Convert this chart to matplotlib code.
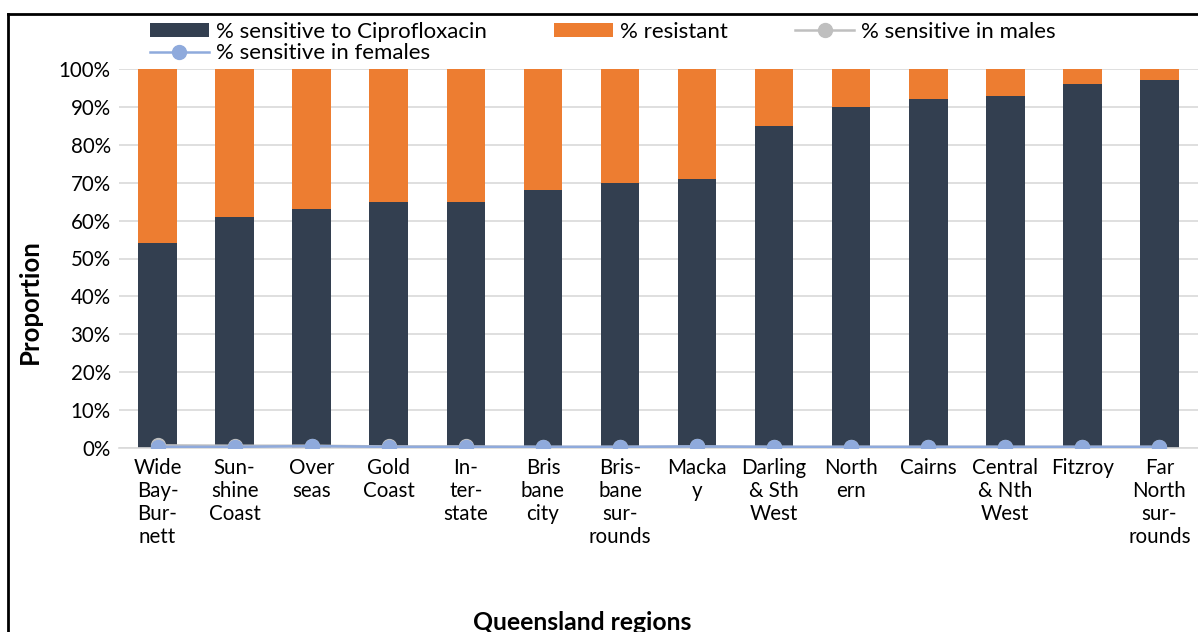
import matplotlib.pyplot as plt
from matplotlib.lines import Line2D
from matplotlib.ticker import FuncFormatter

plt.rcParams['font.family'] = ['Lato', 'DejaVu Sans']

regions = ["Wide\nBay-\nBur-\nnett", "Sun-\nshine\nCoast", "Over\nseas", "Gold\nCoast",
           "In-\nter-\nstate", "Bris\nbane\ncity", "Bris-\nbane\nsur-\nrounds", "Macka\ny",
           "Darling\n& Sth\nWest", "North\nern", "Cairns", "Central\n& Nth\nWest",
           "Fitzroy", "Far\nNorth\nsur-\nrounds"]
sensitive = [54, 61, 63, 65, 65, 68, 70, 71, 85, 90, 92, 93, 96, 97]
resistant = [100 - s for s in sensitive]
# the sex series sit almost on the zero line
males = [0.7, 0.6, 0.6, 0.4, 0.4, 0.3, 0.3, 0.4, 0.3, 0.3, 0.3, 0.3, 0.3, 0.3]
females = [0.3, 0.3, 0.5, 0.3, 0.3, 0.3, 0.3, 0.4, 0.3, 0.3, 0.3, 0.3, 0.3, 0.3]

navy = "#333F50"
orange = "#ED7D31"
grey = "#BFBFBF"
blue = "#8FAADC"

W, H = 1198, 632
fig = plt.figure(figsize=(W / 100, H / 100), dpi=100)
ax = fig.add_axes([119 / W, 1 - 448 / H, 1 - 119 / W, (448 - 69) / H])

x = range(len(regions))
b1 = ax.bar(x, sensitive, width=0.5, color=navy, zorder=2)
b2 = ax.bar(x, resistant, width=0.5, bottom=sensitive, color=orange, zorder=2)
l1, = ax.plot(x, males, color=grey, lw=1.8, marker='o', ms=10, zorder=3)
l2, = ax.plot(x, females, color=blue, lw=1.8, marker='o', ms=10, zorder=4)

ax.set_xlim(-0.5, len(regions) - 0.5)
ax.set_ylim(0, 100)
ax.set_yticks(range(0, 101, 10))
ax.yaxis.set_major_formatter(FuncFormatter(lambda v, p: f"{int(v)}%"))
ax.grid(axis='y', color="#D9D9D9", lw=1.2, zorder=0)
ax.set_xticks(list(x))
ax.set_xticklabels(regions, fontsize=14.8, linespacing=1.2)
ax.tick_params(axis='x', length=0, pad=7)
ax.tick_params(axis='y', length=0, pad=6, labelsize=14.8)
for s in ['left', 'top', 'right']:
    ax.spines[s].set_visible(False)
ax.spines['bottom'].set_color("#D9D9D9")
ax.spines['bottom'].set_linewidth(1.2)

fig.text(30 / W, 1 - 302 / H, "Proportion", rotation=90, fontsize=18.5,
         fontweight='bold', ha='center', va='center')
fig.text(582 / W, 1 - 611 / H, "Queensland regions", fontsize=17.8,
         fontweight='bold', ha='center', va='top')

fig.legend([b1, l2, b2, l1],
           ["% sensitive to Ciprofloxacin", "% sensitive in females",
            "% resistant", "% sensitive in males"],
           ncol=3, loc='upper left', bbox_to_anchor=(150 / W, 1 - 22 / H),
           frameon=False, fontsize=16.0, handlelength=2.65, handleheight=0.62,
           handletextpad=0.3, columnspacing=3.05, labelspacing=0.06,
           borderpad=0, borderaxespad=0)

# outer frame (only top and left edges are in view)
fig.add_artist(Line2D([8 / W, 8 / W], [0, 1 - 14 / H], color='black', lw=2,
                      transform=fig.transFigure))
fig.add_artist(Line2D([8 / W, 1], [1 - 14 / H, 1 - 14 / H], color='black', lw=2,
                      transform=fig.transFigure))

fig.savefig("out.png", dpi=100)
